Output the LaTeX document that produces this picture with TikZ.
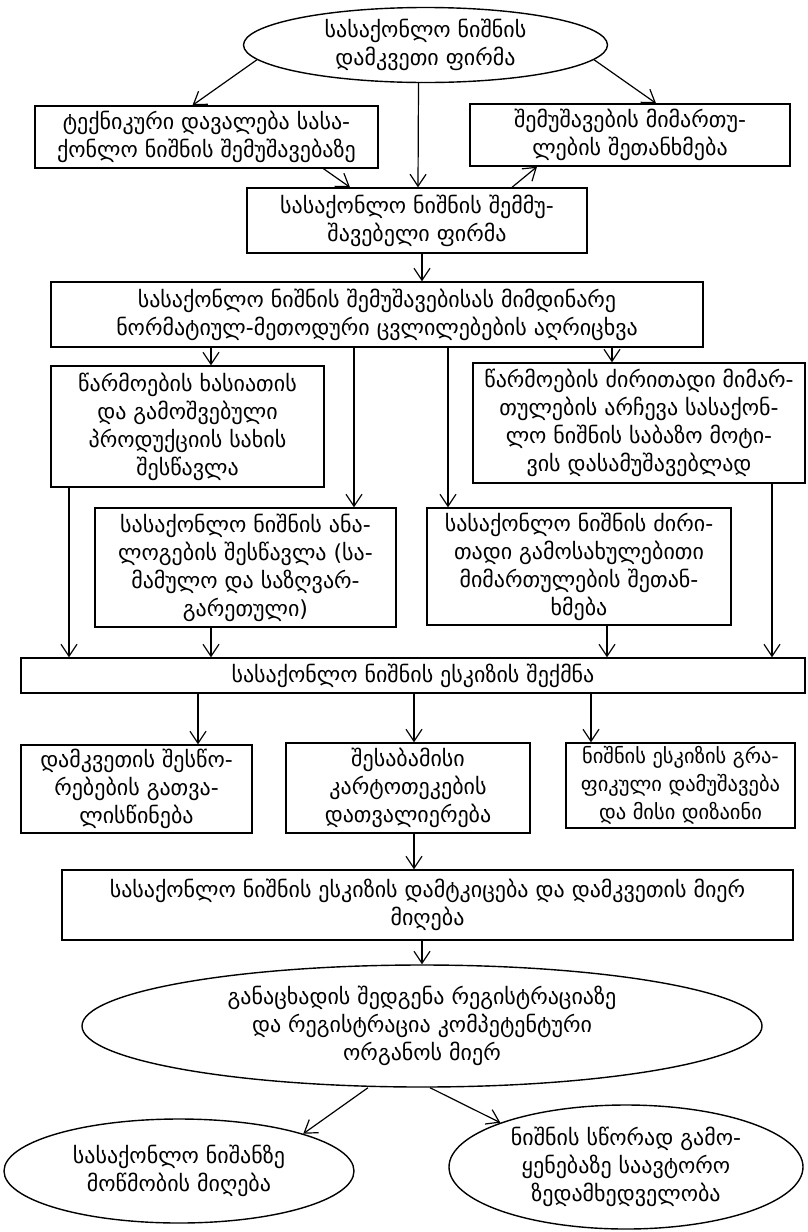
\documentclass[tikz,border=0pt]{standalone}
\usepackage{fontspec}
\setmainfont{DejaVu Sans}
\usetikzlibrary{arrows.meta,shapes.geometric}
\newcommand\geofont{\fontsize{22}{28}\selectfont}
\newcommand\geosmall{\fontsize{20.5}{28}\selectfont}
\tikzset{
  box/.style={draw, line width=1.4pt, rectangle, inner sep=0pt, align=center, font=\geofont},
  oval/.style={draw, line width=1.4pt, ellipse, inner sep=0pt, align=center, font=\geofont},
  arr/.style={line width=1.2pt, -{Straight Barb[length=12pt,width=16pt,line width=1.2pt]}}
}
\begin{document}
\begin{tikzpicture}[x=1pt,y=-1pt]
\fill[white] (0,0) rectangle (807,1232);
\useasboundingbox (0,0) rectangle (807,1232);

\node[oval, minimum width=364pt, minimum height=75pt] (T) at (425.5,45) {სასაქონლო ნიშნის\\დამკვეთი ფირმა};
\node[box, minimum width=343pt, minimum height=62pt] (A) at (206.5,137) {ტექნიკური დავალება სასა-\\ქონლო ნიშნის შემუშავებაზე};
\node[box, minimum width=320pt, minimum height=62pt] (B) at (630,135) {შემუშავების მიმართუ-\\ლების შეთანხმება};
\node[box, minimum width=340pt, minimum height=65pt] (C) at (417,220.5) {სასაქონლო ნიშნის შემმუ-\\შავებელი ფირმა};
\node[box, minimum width=652pt, minimum height=65pt] (D) at (377,314.5) {სასაქონლო ნიშნის შემუშავებისას მიმდინარე\\ნორმატიულ-მეთოდური ცვლილებების აღრიცხვა};
\node[box, minimum width=273pt, minimum height=121pt] (E) at (187.5,426.5) {წარმოების ხასიათის\\და გამოშვებული\\პროდუქციის სახის\\შესწავლა};
\node[box, minimum width=332pt, minimum height=120pt] (F) at (639,423) {წარმოების ძირითადი მიმარ-\\თულების არჩევა სასაქონ-\\ლო ნიშნის საბაზო მოტი-\\ვის დასამუშავებლად};
\node[box, minimum width=301pt, minimum height=119pt] (G) at (245.5,567.5) {სასაქონლო ნიშნის ანა-\\ლოგების შესწავლა (სა-\\მამულო და საზღვარ-\\გარეთული)};
\node[box, minimum width=304pt, minimum height=117pt] (H) at (579,566.5) {სასაქონლო ნიშნის ძირი-\\თადი გამოსახულებითი\\მიმართულების შეთან-\\ხმება};
\node[box, minimum width=784pt, minimum height=35pt] (I) at (413,675.5) {სასაქონლო ნიშნის ესკიზის შექმნა};
\node[box, minimum width=231pt, minimum height=88pt] (J) at (136.5,789) {დამკვეთის შესწო-\\რებების გათვა-\\ლისწინება};
\node[box, minimum width=244pt, minimum height=90pt] (K) at (408,788) {შესაბამისი\\კარტოთეკების\\დათვალიერება};
\node[box, minimum width=229pt, minimum height=85pt, font=\geosmall] (L) at (680.5,785.5) {ნიშნის ესკიზის გრა-\\ფიკული დამუშავება\\და მისი დიზაინი};
\node[box, minimum width=731pt, minimum height=70pt] (M) at (427.5,905) {სასაქონლო ნიშნის ესკიზის დამტკიცება და დამკვეთის მიერ\\მიღება};
\node[oval, minimum width=680pt, minimum height=122pt] (N) at (422,1026) {განაცხადის შედგენა რეგისტრაციაზე\\და რეგისტრაცია კომპეტენტური\\ორგანოს მიერ};
\node[oval, minimum width=350pt, minimum height=104pt] (O) at (179,1171) {სასაქონლო ნიშანზე\\მოწმობის მიღება};
\node[oval, minimum width=354pt, minimum height=124pt] (P) at (626,1167) {ნიშნის სწორად გამო-\\ყენებაზე საავტორო\\ზედამხედველობა};

\draw[arr] (T.185) -- ([xshift=-14]A.north);
\draw[arr] (T.355) -- ([xshift=26]B.north);
\draw[arr] ([xshift=-7]T.south) -- ([xshift=1]C.north);
\draw[arr] ([xshift=117]A.south) -- ([xshift=-67]C.north);
\draw[arr] ([xshift=95]C.north) -- ([xshift=-93]B.south);
\draw[arr] ([xshift=5]C.south) -- ([xshift=45]D.north);
\draw[arr] ([xshift=-166]D.south) -- ([xshift=23.5]E.north);
\draw[arr] ([xshift=-23]D.south) -- ([xshift=108.5]G.north);
\draw[arr] ([xshift=71]D.south) -- ([xshift=-131]H.north);
\draw[arr] ([xshift=235]D.south) -- ([xshift=-27]F.north);
\draw[arr] ([xshift=-118.5]E.south) -- ([xshift=-344]I.north);
\draw[arr] ([xshift=-34.5]G.south) -- ([xshift=-202]I.north);
\draw[arr] ([xshift=28]H.south) -- ([xshift=194]I.north);
\draw[arr] ([xshift=133]F.south) -- ([xshift=359]I.north);
\draw[arr] ([xshift=-215]I.south) -- ([xshift=61.5]J.north);
\draw[arr] ([xshift=1]I.south) -- ([xshift=6]K.north);
\draw[arr] ([xshift=178]I.south) -- ([xshift=-89.5]L.north);
\draw[arr] ([xshift=6]K.south) -- ([xshift=-13.5]M.north);
\draw[arr] ([xshift=-5.5]M.south) -- (N.north);
\draw[arr] ([xshift=-54]N.south) -- (O.north east);
\draw[arr] ([xshift=8]N.south) -- (P.north west);
\end{tikzpicture}
\end{document}
